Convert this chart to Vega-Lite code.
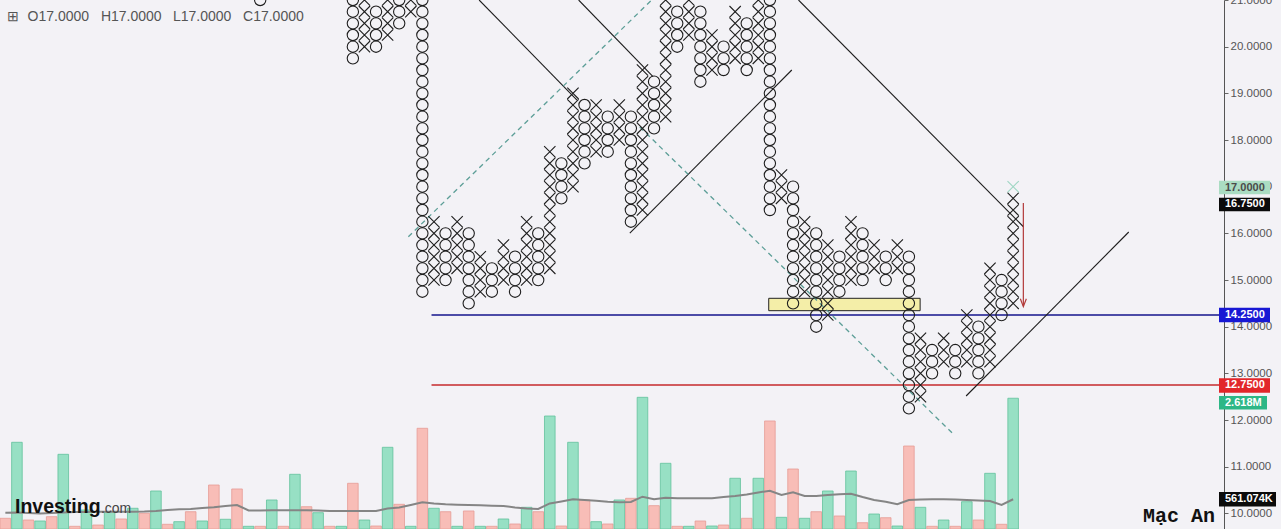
{
 "$schema": "https://vega.github.io/schema/vega-lite/v6.json",
 "width": 1224, "height": 529,
 "autosize": {"type": "none"},
 "padding": {"left": 0, "top": 0, "right": 57, "bottom": 0},
 "background": "#f3f2f6",
 "config": {"view": {"stroke": null}},
 "datasets": {
  "vol": [
   {"k":-30,"v":0.173,"m":0.287,"t":"O"},{"k":-29,"v":1.721,"m":0.291,"t":"X"},{"k":-28,"v":0.138,"m":0.281,"t":"O"},{"k":-27,"v":0.118,"m":0.271,"t":"X"},
   {"k":-26,"v":0.206,"m":0.281,"t":"O"},{"k":-25,"v":1.476,"m":0.291,"t":"X"},{"k":-24,"v":0.01,"m":0.301,"t":"O"},{"k":-23,"v":0.342,"m":0.301,"t":"X"},
   {"k":-22,"v":0.036,"m":0.308,"t":"O"},{"k":-21,"v":0.307,"m":0.308,"t":"X"},{"k":-20,"v":0.159,"m":0.308,"t":"O"},{"k":-19,"v":0.377,"m":0.308,"t":"X"},
   {"k":-18,"v":0.275,"m":0.312,"t":"O"},{"k":-17,"v":0.729,"m":0.322,"t":"X"},{"k":-16,"v":0.051,"m":0.342,"t":"O"},{"k":-15,"v":0.104,"m":0.356,"t":"X"},
   {"k":-14,"v":0.307,"m":0.363,"t":"O"},{"k":-13,"v":0.118,"m":0.383,"t":"X"},{"k":-12,"v":0.851,"m":0.397,"t":"O"},{"k":-11,"v":0.153,"m":0.424,"t":"X"},
   {"k":-10,"v":0.77,"m":0.444,"t":"O"},{"k":-9,"v":0.01,"m":0.332,"t":"X"},{"k":-8,"v":0.01,"m":0.332,"t":"O"},{"k":-7,"v":0.546,"m":0.336,"t":"X"},
   {"k":-6,"v":0.01,"m":0.336,"t":"O"},{"k":-5,"v":1.069,"m":0.336,"t":"X"},{"k":-4,"v":0.409,"m":0.336,"t":"O"},{"k":-3,"v":0.287,"m":0.332,"t":"X"},
   {"k":-2,"v":0.01,"m":0.322,"t":"O"},{"k":-1,"v":0.01,"m":0.322,"t":"X"},{"k":0,"v":0.886,"m":0.322,"t":"O"},{"k":1,"v":0.138,"m":0.322,"t":"X"},
   {"k":2,"v":0.016,"m":0.322,"t":"O"},{"k":3,"v":1.619,"m":0.373,"t":"X"},{"k":4,"v":0.458,"m":0.393,"t":"O"},{"k":5,"v":0.01,"m":0.444,"t":"X"},
   {"k":6,"v":2.006,"m":0.499,"t":"O"},{"k":7,"v":0.377,"m":0.475,"t":"X"},{"k":8,"v":0.307,"m":0.458,"t":"O"},{"k":9,"v":0.01,"m":0.45,"t":"X"},
   {"k":10,"v":0.322,"m":0.444,"t":"O"},{"k":11,"v":0.01,"m":0.438,"t":"X"},{"k":12,"v":0.01,"m":0.43,"t":"O"},{"k":13,"v":0.159,"m":0.424,"t":"X"},
   {"k":14,"v":0.057,"m":0.393,"t":"O"},{"k":15,"v":0.397,"m":0.373,"t":"X"},{"k":16,"v":0.307,"m":0.363,"t":"O"},{"k":17,"v":2.256,"m":0.475,"t":"X"},
   {"k":18,"v":0.016,"m":0.515,"t":"O"},{"k":19,"v":1.721,"m":0.56,"t":"X"},{"k":20,"v":0.546,"m":0.546,"t":"O"},{"k":21,"v":0.104,"m":0.532,"t":"X"},
   {"k":22,"v":0.057,"m":0.511,"t":"O"},{"k":23,"v":0.546,"m":0.499,"t":"X"},{"k":24,"v":0.58,"m":0.505,"t":"O"},{"k":25,"v":2.637,"m":0.613,"t":"X"},
   {"k":26,"v":0.43,"m":0.56,"t":"O"},{"k":27,"v":1.293,"m":0.593,"t":"X"},{"k":28,"v":0.01,"m":0.58,"t":"O"},{"k":29,"v":0.01,"m":0.58,"t":"X"},
   {"k":30,"v":0.118,"m":0.58,"t":"O"},{"k":31,"v":0.016,"m":0.58,"t":"X"},{"k":32,"v":0.036,"m":0.607,"t":"O"},{"k":33,"v":0.988,"m":0.627,"t":"X"},
   {"k":34,"v":0.173,"m":0.658,"t":"O"},{"k":35,"v":0.988,"m":0.699,"t":"X"},{"k":36,"v":2.155,"m":0.735,"t":"O"},{"k":37,"v":0.193,"m":0.648,"t":"X"},
   {"k":38,"v":1.177,"m":0.703,"t":"O"},{"k":39,"v":0.173,"m":0.627,"t":"X"},{"k":40,"v":0.307,"m":0.627,"t":"O"},{"k":41,"v":0.729,"m":0.648,"t":"X"},
   {"k":42,"v":0.22,"m":0.662,"t":"O"},{"k":43,"v":1.136,"m":0.674,"t":"X"},{"k":44,"v":0.083,"m":0.607,"t":"O"},{"k":45,"v":0.26,"m":0.546,"t":"X"},
   {"k":46,"v":0.185,"m":0.511,"t":"O"},{"k":47,"v":0.016,"m":0.462,"t":"X"},{"k":48,"v":1.645,"m":0.546,"t":"O"},{"k":49,"v":0.397,"m":0.556,"t":"X"},
   {"k":50,"v":0.01,"m":0.56,"t":"O"},{"k":51,"v":0.138,"m":0.56,"t":"X"},{"k":52,"v":0.01,"m":0.556,"t":"O"},{"k":53,"v":0.511,"m":0.546,"t":"X"},
   {"k":54,"v":0.138,"m":0.536,"t":"O"},{"k":55,"v":1.089,"m":0.526,"t":"X"},{"k":56,"v":0.051,"m":0.444,"t":"O"},{"k":57,"v":2.618,"m":0.561,"t":"X"}
  ],
  "boxes": [
   {"k":-8,"p":21,"t":"O"},
   {"k":0,"p":21,"t":"O"},{"k":0,"p":20.75,"t":"O"},{"k":0,"p":20.5,"t":"O"},{"k":0,"p":20.25,"t":"O"},{"k":0,"p":20,"t":"O"},{"k":0,"p":19.75,"t":"O"},
   {"k":1,"p":20,"t":"X"},{"k":1,"p":20.25,"t":"X"},{"k":1,"p":20.5,"t":"X"},{"k":1,"p":20.75,"t":"X"},{"k":1,"p":21,"t":"X"},
   {"k":2,"p":20.75,"t":"O"},{"k":2,"p":20.5,"t":"O"},{"k":2,"p":20.25,"t":"O"},{"k":2,"p":20,"t":"O"},
   {"k":3,"p":20.25,"t":"X"},{"k":3,"p":20.5,"t":"X"},{"k":3,"p":20.75,"t":"X"},{"k":3,"p":21,"t":"X"},
   {"k":4,"p":21,"t":"O"},{"k":4,"p":20.75,"t":"O"},{"k":4,"p":20.5,"t":"O"},
   {"k":5,"p":20.75,"t":"X"},{"k":5,"p":21,"t":"X"},
   {"k":6,"p":21,"t":"O"},{"k":6,"p":20.75,"t":"O"},{"k":6,"p":20.5,"t":"O"},{"k":6,"p":20.25,"t":"O"},{"k":6,"p":20,"t":"O"},{"k":6,"p":19.75,"t":"O"},
   {"k":6,"p":19.5,"t":"O"},{"k":6,"p":19.25,"t":"O"},{"k":6,"p":19,"t":"O"},{"k":6,"p":18.75,"t":"O"},{"k":6,"p":18.5,"t":"O"},{"k":6,"p":18.25,"t":"O"},
   {"k":6,"p":18,"t":"O"},{"k":6,"p":17.75,"t":"O"},{"k":6,"p":17.5,"t":"O"},{"k":6,"p":17.25,"t":"O"},{"k":6,"p":17,"t":"O"},{"k":6,"p":16.75,"t":"O"},
   {"k":6,"p":16.5,"t":"O"},{"k":6,"p":16.25,"t":"O"},{"k":6,"p":16,"t":"O"},{"k":6,"p":15.75,"t":"O"},{"k":6,"p":15.5,"t":"O"},{"k":6,"p":15.25,"t":"O"},
   {"k":6,"p":15,"t":"O"},{"k":6,"p":14.75,"t":"O"},
   {"k":7,"p":15,"t":"X"},{"k":7,"p":15.25,"t":"X"},{"k":7,"p":15.5,"t":"X"},{"k":7,"p":15.75,"t":"X"},{"k":7,"p":16,"t":"X"},{"k":7,"p":16.25,"t":"X"},
   {"k":8,"p":16,"t":"O"},{"k":8,"p":15.75,"t":"O"},{"k":8,"p":15.5,"t":"O"},{"k":8,"p":15.25,"t":"O"},{"k":8,"p":15,"t":"O"},
   {"k":9,"p":15.25,"t":"X"},{"k":9,"p":15.5,"t":"X"},{"k":9,"p":15.75,"t":"X"},{"k":9,"p":16,"t":"X"},{"k":9,"p":16.25,"t":"X"},
   {"k":10,"p":16,"t":"O"},{"k":10,"p":15.75,"t":"O"},{"k":10,"p":15.5,"t":"O"},{"k":10,"p":15.25,"t":"O"},{"k":10,"p":15,"t":"O"},{"k":10,"p":14.75,"t":"O"},{"k":10,"p":14.5,"t":"O"},
   {"k":11,"p":14.75,"t":"X"},{"k":11,"p":15,"t":"X"},{"k":11,"p":15.25,"t":"X"},{"k":11,"p":15.5,"t":"X"},
   {"k":12,"p":15.25,"t":"O"},{"k":12,"p":15,"t":"O"},{"k":12,"p":14.75,"t":"O"},
   {"k":13,"p":15,"t":"X"},{"k":13,"p":15.25,"t":"X"},{"k":13,"p":15.5,"t":"X"},{"k":13,"p":15.75,"t":"X"},
   {"k":14,"p":15.5,"t":"O"},{"k":14,"p":15.25,"t":"O"},{"k":14,"p":15,"t":"O"},{"k":14,"p":14.75,"t":"O"},
   {"k":15,"p":15,"t":"X"},{"k":15,"p":15.25,"t":"X"},{"k":15,"p":15.5,"t":"X"},{"k":15,"p":15.75,"t":"X"},{"k":15,"p":16,"t":"X"},{"k":15,"p":16.25,"t":"X"},
   {"k":16,"p":16,"t":"O"},{"k":16,"p":15.75,"t":"O"},{"k":16,"p":15.5,"t":"O"},{"k":16,"p":15.25,"t":"O"},{"k":16,"p":15,"t":"O"},
   {"k":17,"p":15.25,"t":"X"},{"k":17,"p":15.5,"t":"X"},{"k":17,"p":15.75,"t":"X"},{"k":17,"p":16,"t":"X"},{"k":17,"p":16.25,"t":"X"},{"k":17,"p":16.5,"t":"X"},
   {"k":17,"p":16.75,"t":"X"},{"k":17,"p":17,"t":"X"},{"k":17,"p":17.25,"t":"X"},{"k":17,"p":17.5,"t":"X"},{"k":17,"p":17.75,"t":"X"},
   {"k":18,"p":17.5,"t":"O"},{"k":18,"p":17.25,"t":"O"},{"k":18,"p":17,"t":"O"},{"k":18,"p":16.75,"t":"O"},
   {"k":19,"p":17,"t":"X"},{"k":19,"p":17.25,"t":"X"},{"k":19,"p":17.5,"t":"X"},{"k":19,"p":17.75,"t":"X"},{"k":19,"p":18,"t":"X"},{"k":19,"p":18.25,"t":"X"},
   {"k":19,"p":18.5,"t":"X"},{"k":19,"p":18.75,"t":"X"},{"k":19,"p":19,"t":"X"},
   {"k":20,"p":18.75,"t":"O"},{"k":20,"p":18.5,"t":"O"},{"k":20,"p":18.25,"t":"O"},{"k":20,"p":18,"t":"O"},{"k":20,"p":17.75,"t":"O"},{"k":20,"p":17.5,"t":"O"},
   {"k":21,"p":17.75,"t":"X"},{"k":21,"p":18,"t":"X"},{"k":21,"p":18.25,"t":"X"},{"k":21,"p":18.5,"t":"X"},{"k":21,"p":18.75,"t":"X"},
   {"k":22,"p":18.5,"t":"O"},{"k":22,"p":18.25,"t":"O"},{"k":22,"p":18,"t":"O"},{"k":22,"p":17.75,"t":"O"},
   {"k":23,"p":18,"t":"X"},{"k":23,"p":18.25,"t":"X"},{"k":23,"p":18.5,"t":"X"},{"k":23,"p":18.75,"t":"X"},
   {"k":24,"p":18.5,"t":"O"},{"k":24,"p":18.25,"t":"O"},{"k":24,"p":18,"t":"O"},{"k":24,"p":17.75,"t":"O"},{"k":24,"p":17.5,"t":"O"},
   {"k":24,"p":17.25,"t":"O"},{"k":24,"p":17,"t":"O"},{"k":24,"p":16.75,"t":"O"},{"k":24,"p":16.5,"t":"O"},{"k":24,"p":16.25,"t":"O"},
   {"k":25,"p":16.5,"t":"X"},{"k":25,"p":16.75,"t":"X"},{"k":25,"p":17,"t":"X"},{"k":25,"p":17.25,"t":"X"},{"k":25,"p":17.5,"t":"X"},{"k":25,"p":17.75,"t":"X"},
   {"k":25,"p":18,"t":"X"},{"k":25,"p":18.25,"t":"X"},{"k":25,"p":18.5,"t":"X"},{"k":25,"p":18.75,"t":"X"},{"k":25,"p":19,"t":"X"},{"k":25,"p":19.25,"t":"X"},{"k":25,"p":19.5,"t":"X"},
   {"k":26,"p":19.25,"t":"O"},{"k":26,"p":19,"t":"O"},{"k":26,"p":18.75,"t":"O"},{"k":26,"p":18.5,"t":"O"},{"k":26,"p":18.25,"t":"O"},
   {"k":27,"p":18.5,"t":"X"},{"k":27,"p":18.75,"t":"X"},{"k":27,"p":19,"t":"X"},{"k":27,"p":19.25,"t":"X"},{"k":27,"p":19.5,"t":"X"},{"k":27,"p":19.75,"t":"X"},
   {"k":27,"p":20,"t":"X"},{"k":27,"p":20.25,"t":"X"},{"k":27,"p":20.5,"t":"X"},{"k":27,"p":20.75,"t":"X"},{"k":27,"p":21,"t":"X"},
   {"k":28,"p":20.75,"t":"O"},{"k":28,"p":20.5,"t":"O"},{"k":28,"p":20.25,"t":"O"},{"k":28,"p":20,"t":"O"},
   {"k":29,"p":20.25,"t":"X"},{"k":29,"p":20.5,"t":"X"},{"k":29,"p":20.75,"t":"X"},{"k":29,"p":21,"t":"X"},
   {"k":30,"p":20.75,"t":"O"},{"k":30,"p":20.5,"t":"O"},{"k":30,"p":20.25,"t":"O"},{"k":30,"p":20,"t":"O"},{"k":30,"p":19.75,"t":"O"},{"k":30,"p":19.5,"t":"O"},{"k":30,"p":19.25,"t":"O"},
   {"k":31,"p":19.5,"t":"X"},{"k":31,"p":19.75,"t":"X"},{"k":31,"p":20,"t":"X"},{"k":31,"p":20.25,"t":"X"},
   {"k":32,"p":20,"t":"O"},{"k":32,"p":19.75,"t":"O"},{"k":32,"p":19.5,"t":"O"},
   {"k":33,"p":19.75,"t":"X"},{"k":33,"p":20,"t":"X"},{"k":33,"p":20.25,"t":"X"},{"k":33,"p":20.5,"t":"X"},{"k":33,"p":20.75,"t":"X"},
   {"k":34,"p":20.5,"t":"O"},{"k":34,"p":20.25,"t":"O"},{"k":34,"p":20,"t":"O"},{"k":34,"p":19.75,"t":"O"},{"k":34,"p":19.5,"t":"O"},
   {"k":35,"p":19.75,"t":"X"},{"k":35,"p":20,"t":"X"},{"k":35,"p":20.25,"t":"X"},{"k":35,"p":20.5,"t":"X"},{"k":35,"p":20.75,"t":"X"},{"k":35,"p":21,"t":"X"},
   {"k":36,"p":21,"t":"O"},{"k":36,"p":20.75,"t":"O"},{"k":36,"p":20.5,"t":"O"},{"k":36,"p":20.25,"t":"O"},{"k":36,"p":20,"t":"O"},{"k":36,"p":19.75,"t":"O"},
   {"k":36,"p":19.5,"t":"O"},{"k":36,"p":19.25,"t":"O"},{"k":36,"p":19,"t":"O"},{"k":36,"p":18.75,"t":"O"},{"k":36,"p":18.5,"t":"O"},{"k":36,"p":18.25,"t":"O"},
   {"k":36,"p":18,"t":"O"},{"k":36,"p":17.75,"t":"O"},{"k":36,"p":17.5,"t":"O"},{"k":36,"p":17.25,"t":"O"},{"k":36,"p":17,"t":"O"},{"k":36,"p":16.75,"t":"O"},{"k":36,"p":16.5,"t":"O"},
   {"k":37,"p":16.75,"t":"X"},{"k":37,"p":17,"t":"X"},{"k":37,"p":17.25,"t":"X"},
   {"k":38,"p":17,"t":"O"},{"k":38,"p":16.75,"t":"O"},{"k":38,"p":16.5,"t":"O"},{"k":38,"p":16.25,"t":"O"},{"k":38,"p":16,"t":"O"},{"k":38,"p":15.75,"t":"O"},
   {"k":38,"p":15.5,"t":"O"},{"k":38,"p":15.25,"t":"O"},{"k":38,"p":15,"t":"O"},{"k":38,"p":14.75,"t":"O"},{"k":38,"p":14.5,"t":"O"},
   {"k":39,"p":14.75,"t":"X"},{"k":39,"p":15,"t":"X"},{"k":39,"p":15.25,"t":"X"},{"k":39,"p":15.5,"t":"X"},{"k":39,"p":15.75,"t":"X"},{"k":39,"p":16,"t":"X"},{"k":39,"p":16.25,"t":"X"},
   {"k":40,"p":16,"t":"O"},{"k":40,"p":15.75,"t":"O"},{"k":40,"p":15.5,"t":"O"},{"k":40,"p":15.25,"t":"O"},{"k":40,"p":15,"t":"O"},{"k":40,"p":14.75,"t":"O"},
   {"k":40,"p":14.5,"t":"O"},{"k":40,"p":14.25,"t":"O"},{"k":40,"p":14,"t":"O"},
   {"k":41,"p":14.25,"t":"X"},{"k":41,"p":14.5,"t":"X"},{"k":41,"p":14.75,"t":"X"},{"k":41,"p":15,"t":"X"},{"k":41,"p":15.25,"t":"X"},{"k":41,"p":15.5,"t":"X"},{"k":41,"p":15.75,"t":"X"},
   {"k":42,"p":15.5,"t":"O"},{"k":42,"p":15.25,"t":"O"},{"k":42,"p":15,"t":"O"},{"k":42,"p":14.75,"t":"O"},
   {"k":43,"p":15,"t":"X"},{"k":43,"p":15.25,"t":"X"},{"k":43,"p":15.5,"t":"X"},{"k":43,"p":15.75,"t":"X"},{"k":43,"p":16,"t":"X"},{"k":43,"p":16.25,"t":"X"},
   {"k":44,"p":16,"t":"O"},{"k":44,"p":15.75,"t":"O"},{"k":44,"p":15.5,"t":"O"},{"k":44,"p":15.25,"t":"O"},{"k":44,"p":15,"t":"O"},
   {"k":45,"p":15.25,"t":"X"},{"k":45,"p":15.5,"t":"X"},{"k":45,"p":15.75,"t":"X"},
   {"k":46,"p":15.5,"t":"O"},{"k":46,"p":15.25,"t":"O"},{"k":46,"p":15,"t":"O"},
   {"k":47,"p":15.25,"t":"X"},{"k":47,"p":15.5,"t":"X"},{"k":47,"p":15.75,"t":"X"},
   {"k":48,"p":15.5,"t":"O"},{"k":48,"p":15.25,"t":"O"},{"k":48,"p":15,"t":"O"},{"k":48,"p":14.75,"t":"O"},{"k":48,"p":14.5,"t":"O"},{"k":48,"p":14.25,"t":"O"},
   {"k":48,"p":14,"t":"O"},{"k":48,"p":13.75,"t":"O"},{"k":48,"p":13.5,"t":"O"},{"k":48,"p":13.25,"t":"O"},{"k":48,"p":13,"t":"O"},{"k":48,"p":12.75,"t":"O"},
   {"k":48,"p":12.5,"t":"O"},{"k":48,"p":12.25,"t":"O"},
   {"k":49,"p":12.5,"t":"X"},{"k":49,"p":12.75,"t":"X"},{"k":49,"p":13,"t":"X"},{"k":49,"p":13.25,"t":"X"},{"k":49,"p":13.5,"t":"X"},{"k":49,"p":13.75,"t":"X"},
   {"k":50,"p":13.5,"t":"O"},{"k":50,"p":13.25,"t":"O"},{"k":50,"p":13,"t":"O"},
   {"k":51,"p":13.25,"t":"X"},{"k":51,"p":13.5,"t":"X"},{"k":51,"p":13.75,"t":"X"},
   {"k":52,"p":13.5,"t":"O"},{"k":52,"p":13.25,"t":"O"},{"k":52,"p":13,"t":"O"},
   {"k":53,"p":13.25,"t":"X"},{"k":53,"p":13.5,"t":"X"},{"k":53,"p":13.75,"t":"X"},{"k":53,"p":14,"t":"X"},{"k":53,"p":14.25,"t":"X"},
   {"k":54,"p":14,"t":"O"},{"k":54,"p":13.75,"t":"O"},{"k":54,"p":13.5,"t":"O"},{"k":54,"p":13.25,"t":"O"},{"k":54,"p":13,"t":"O"},
   {"k":55,"p":13.25,"t":"X"},{"k":55,"p":13.5,"t":"X"},{"k":55,"p":13.75,"t":"X"},{"k":55,"p":14,"t":"X"},{"k":55,"p":14.25,"t":"X"},{"k":55,"p":14.5,"t":"X"},
   {"k":55,"p":14.75,"t":"X"},{"k":55,"p":15,"t":"X"},{"k":55,"p":15.25,"t":"X"},
   {"k":56,"p":15,"t":"O"},{"k":56,"p":14.75,"t":"O"},{"k":56,"p":14.5,"t":"O"},{"k":56,"p":14.25,"t":"O"},
   {"k":57,"p":14.5,"t":"X"},{"k":57,"p":14.75,"t":"X"},{"k":57,"p":15,"t":"X"},{"k":57,"p":15.25,"t":"X"},{"k":57,"p":15.5,"t":"X"},{"k":57,"p":15.75,"t":"X"},
   {"k":57,"p":16,"t":"X"},{"k":57,"p":16.25,"t":"X"},{"k":57,"p":16.5,"t":"X"},{"k":57,"p":16.75,"t":"X"},{"k":57,"p":17,"t":"N"}
  ],
  "trend": [
   {"id":"A","k":10.9,"p":21},{"id":"A","k":19.35,"p":18.857},
   {"id":"B","k":19.49,"p":21},{"id":"B","k":25.91,"p":19.357},
   {"id":"C","k":38.47,"p":21},{"id":"C","k":57.91,"p":16.136},
   {"id":"D","k":23.91,"p":16.007},{"id":"D","k":37.89,"p":19.5},
   {"id":"E","k":52.94,"p":12.515},{"id":"E","k":66.98,"p":16.029}
  ],
  "dashed": [
   {"id":"F","k":4.79,"p":15.928},{"id":"F","k":25.8,"p":21},
   {"id":"G","k":24.77,"p":18.279},{"id":"G","k":51.74,"p":11.722}
  ],
  "hlines": [
   {"id":"b","k":6.79,"p":14.25},{"id":"b","k":74.77,"p":14.25},
   {"id":"r","k":6.79,"p":12.75},{"id":"r","k":74.77,"p":12.75}
  ],
  "tags": [
   {"tag":"17.0000","p":16.98},{"tag":"16.7500","p":16.62},{"tag":"14.2500","p":14.25},
   {"tag":"12.7500","p":12.74},{"tag":"2.618M","p":12.37},{"tag":"561.074K","p":10.3}
  ]
 },
 "layer": [
  {
   "data": {"name": "vol"},
   "layer": [
    {
     "mark": {"type": "bar", "width": 10.6, "strokeWidth": 0.8},
     "encoding": {
      "x": {"field": "k", "type": "quantitative", "scale": {"domain": [-30.03, 74.77], "nice": false, "zero": false}, "axis": null},
      "y": {"field": "v", "type": "quantitative", "scale": {"domain": [-0.045, 10.729], "nice": false, "zero": false}, "axis": null},
      "y2": {"datum": -0.045},
      "fill": {"field": "t", "type": "nominal", "scale": {"domain": ["X", "O"], "range": ["#97e0c4", "#f8bdb7"]}, "legend": null},
      "stroke": {"field": "t", "type": "nominal", "scale": {"domain": ["X", "O"], "range": ["#62c29c", "#e69c95"]}, "legend": null}
     }
    },
    {
     "mark": {"type": "line", "color": "#858585", "strokeWidth": 2},
     "encoding": {
      "x": {"field": "k", "type": "quantitative", "scale": {"domain": [-30.03, 74.77], "nice": false, "zero": false}, "axis": null},
      "y": {"field": "m", "type": "quantitative", "scale": {"domain": [-0.045, 10.729], "nice": false, "zero": false}, "axis": null}
     }
    }
   ]
  },
  {
   "layer": [
    {
     "data": {"values": [{"k1": 35.9, "k2": 48.97, "p1": 14.343, "p2": 14.608}]},
     "mark": {"type": "rect", "fill": "#f4eea8", "stroke": "#222", "strokeWidth": 1},
     "encoding": {
      "x": {"field": "k1", "type": "quantitative", "scale": {"domain": [-30.03, 74.77], "nice": false, "zero": false}, "axis": null},
      "x2": {"field": "k2"},
      "y": {"field": "p1", "type": "quantitative", "scale": {"domain": [9.665, 21], "nice": false, "zero": false},
            "axis": {"orient": "right", "values": [10, 11, 12, 13, 14, 15, 16, 17, 18, 19, 20, 21], "format": ".4f", "title": null, "grid": false,
                     "labelFont": "Liberation Sans", "labelFontSize": 11.5, "labelColor": "#555", "labelPadding": 2, "labelFlush": false, "labelOverlap": false,
                     "tickColor": "#666", "tickSize": 4, "domainColor": "#555", "domainWidth": 1}},
      "y2": {"field": "p2"}
     }
    },
    {
     "data": {"name": "hlines"},
     "mark": {"type": "line", "strokeWidth": 1.5},
     "encoding": {
      "x": {"field": "k", "type": "quantitative", "scale": {"domain": [-30.03, 74.77], "nice": false, "zero": false}, "axis": null},
      "y": {"field": "p", "type": "quantitative", "scale": {"domain": [9.665, 21], "nice": false, "zero": false}},
      "color": {"field": "id", "type": "nominal", "scale": {"domain": ["b", "r"], "range": ["#15158c", "#c62a2c"]}, "legend": null}
     }
    },
    {
     "data": {"name": "trend"},
     "mark": {"type": "line", "color": "#1c1c1c", "strokeWidth": 1.1},
     "encoding": {
      "x": {"field": "k", "type": "quantitative", "scale": {"domain": [-30.03, 74.77], "nice": false, "zero": false}, "axis": null},
      "y": {"field": "p", "type": "quantitative", "scale": {"domain": [9.665, 21], "nice": false, "zero": false}},
      "detail": {"field": "id"}
     }
    },
    {
     "data": {"name": "dashed"},
     "mark": {"type": "line", "color": "#5c9e97", "strokeWidth": 1.3, "strokeDash": [5, 4]},
     "encoding": {
      "x": {"field": "k", "type": "quantitative", "scale": {"domain": [-30.03, 74.77], "nice": false, "zero": false}, "axis": null},
      "y": {"field": "p", "type": "quantitative", "scale": {"domain": [9.665, 21], "nice": false, "zero": false}},
      "detail": {"field": "id"}
     }
    },
    {
     "data": {"values": [{"k": 57.88, "p": 16.65, "p2": 14.45}]},
     "mark": {"type": "rule", "color": "#b23a3a", "strokeWidth": 1.2},
     "encoding": {
      "x": {"field": "k", "type": "quantitative", "scale": {"domain": [-30.03, 74.77], "nice": false, "zero": false}, "axis": null},
      "y": {"field": "p", "type": "quantitative", "scale": {"domain": [9.665, 21], "nice": false, "zero": false}},
      "y2": {"field": "p2"}
     }
    },
    {
     "data": {"values": [{"k": 57.88, "p": 14.43}]},
     "mark": {"type": "point", "shape": "M-1,-2.6L0,0L1,-2.6", "size": 36, "filled": false, "stroke": "#b23a3a", "strokeWidth": 1.2, "opacity": 1},
     "encoding": {
      "x": {"field": "k", "type": "quantitative", "scale": {"domain": [-30.03, 74.77], "nice": false, "zero": false}, "axis": null},
      "y": {"field": "p", "type": "quantitative", "scale": {"domain": [9.665, 21], "nice": false, "zero": false}}
     }
    },
    {
     "data": {"name": "boxes"},
     "mark": {"type": "point", "filled": false, "strokeWidth": 1.1, "size": 128, "opacity": 1},
     "encoding": {
      "x": {"field": "k", "type": "quantitative", "scale": {"domain": [-30.03, 74.77], "nice": false, "zero": false}, "axis": null},
      "y": {"field": "p", "type": "quantitative", "scale": {"domain": [9.665, 21], "nice": false, "zero": false}},
      "shape": {"field": "t", "type": "nominal", "scale": {"domain": ["X", "O", "N"], "range": ["M-1,-1L1,1M-1,1L1,-1", "circle", "M-1,-1L1,1M-1,1L1,-1"]}, "legend": null},
      "stroke": {"field": "t", "type": "nominal", "scale": {"domain": ["X", "O", "N"], "range": ["#1e1e1e", "#1e1e1e", "#9ed6c3"]}, "legend": null}
     }
    },
    {
     "data": {"values": [{"s": "⊞", "k": -29.86}, {"s": "O17.0000", "k": -28.08}, {"s": "H17.0000", "k": -21.75}, {"s": "L17.0000", "k": -15.53}, {"s": "C17.0000", "k": -9.48}]},
     "mark": {"type": "text", "align": "left", "baseline": "middle", "font": "Liberation Sans", "fontSize": 14, "color": "#555"},
     "encoding": {
      "x": {"field": "k", "type": "quantitative", "scale": {"domain": [-30.03, 74.77], "nice": false, "zero": false}, "axis": null},
      "y": {"datum": 20.642, "type": "quantitative", "scale": {"domain": [9.665, 21], "nice": false, "zero": false}},
      "text": {"field": "s"}
     }
    },
    {
     "data": {"values": [{"s": "Investing", "k": -29.17}]},
     "mark": {"type": "text", "align": "left", "baseline": "alphabetic", "font": "Liberation Sans", "fontSize": 19.5, "fontWeight": "bold", "color": "#111"},
     "encoding": {
      "x": {"field": "k", "type": "quantitative", "scale": {"domain": [-30.03, 74.77], "nice": false, "zero": false}, "axis": null},
      "y": {"datum": 10.008, "type": "quantitative", "scale": {"domain": [9.665, 21], "nice": false, "zero": false}},
      "text": {"field": "s"}
     }
    },
    {
     "data": {"values": [{"s": ".com", "k": -21.75}]},
     "mark": {"type": "text", "align": "left", "baseline": "alphabetic", "font": "Liberation Sans", "fontSize": 14, "color": "#444"},
     "encoding": {
      "x": {"field": "k", "type": "quantitative", "scale": {"domain": [-30.03, 74.77], "nice": false, "zero": false}, "axis": null},
      "y": {"datum": 10.008, "type": "quantitative", "scale": {"domain": [9.665, 21], "nice": false, "zero": false}},
      "text": {"field": "s"}
     }
    },
    {
     "data": {"values": [{"s": "Mạc An", "k": 68.2}]},
     "mark": {"type": "text", "align": "left", "baseline": "alphabetic", "font": "Liberation Mono", "fontSize": 20, "fontWeight": "bold", "color": "#111"},
     "encoding": {
      "x": {"field": "k", "type": "quantitative", "scale": {"domain": [-30.03, 74.77], "nice": false, "zero": false}, "axis": null},
      "y": {"datum": 9.815, "type": "quantitative", "scale": {"domain": [9.665, 21], "nice": false, "zero": false}},
      "text": {"field": "s"}
     }
    },
    {
     "data": {"name": "tags"},
     "mark": {"type": "point", "filled": true, "size": 100, "strokeWidth": 0, "opacity": 1},
     "encoding": {
      "x": {"datum": 74.77, "type": "quantitative", "scale": {"domain": [-30.03, 74.77], "nice": false, "zero": false}, "axis": null},
      "y": {"field": "p", "type": "quantitative", "scale": {"domain": [9.665, 21], "nice": false, "zero": false}},
      "shape": {"field": "tag", "type": "nominal", "scale": {"domain": ["17.0000", "16.7500", "14.2500", "12.7500", "2.618M", "561.074K"],
               "range": ["M0,-1.35L10.2,-1.35L10.2,1.35L0,1.35Z", "M0,-1.35L10.2,-1.35L10.2,1.35L0,1.35Z", "M0,-1.45L10.2,-1.45L10.2,1.45L0,1.45Z", "M0,-1.45L10.2,-1.45L10.2,1.45L0,1.45Z", "M0,-1.35L9.6,-1.35L9.6,1.35L0,1.35Z", "M0,-1.45L11.4,-1.45L11.4,1.45L0,1.45Z"]}, "legend": null},
      "fill": {"field": "tag", "type": "nominal", "scale": {"domain": ["17.0000", "16.7500", "14.2500", "12.7500", "2.618M", "561.074K"],
               "range": ["#aadcc2", "#0b0b0b", "#1818d4", "#e2262a", "#2db786", "#0b0b0b"]}, "legend": null}
     }
    },
    {
     "data": {"name": "tags"},
     "mark": {"type": "text", "align": "left", "baseline": "middle", "dx": 6, "font": "Liberation Sans", "fontSize": 11, "fontWeight": "bold"},
     "encoding": {
      "x": {"datum": 74.77, "type": "quantitative", "scale": {"domain": [-30.03, 74.77], "nice": false, "zero": false}, "axis": null},
      "y": {"field": "p", "type": "quantitative", "scale": {"domain": [9.665, 21], "nice": false, "zero": false}},
      "text": {"field": "tag"},
      "color": {"field": "tag", "type": "nominal", "scale": {"domain": ["17.0000", "16.7500", "14.2500", "12.7500", "2.618M", "561.074K"],
               "range": ["#4a4a4a", "#ffffff", "#ffffff", "#ffffff", "#ffffff", "#ffffff"]}, "legend": null}
     }
    }
   ],
   "resolve": {"scale": {"color": "independent", "fill": "independent", "stroke": "independent", "shape": "independent"}}
  }
 ],
 "resolve": {"scale": {"y": "independent"}}
}
